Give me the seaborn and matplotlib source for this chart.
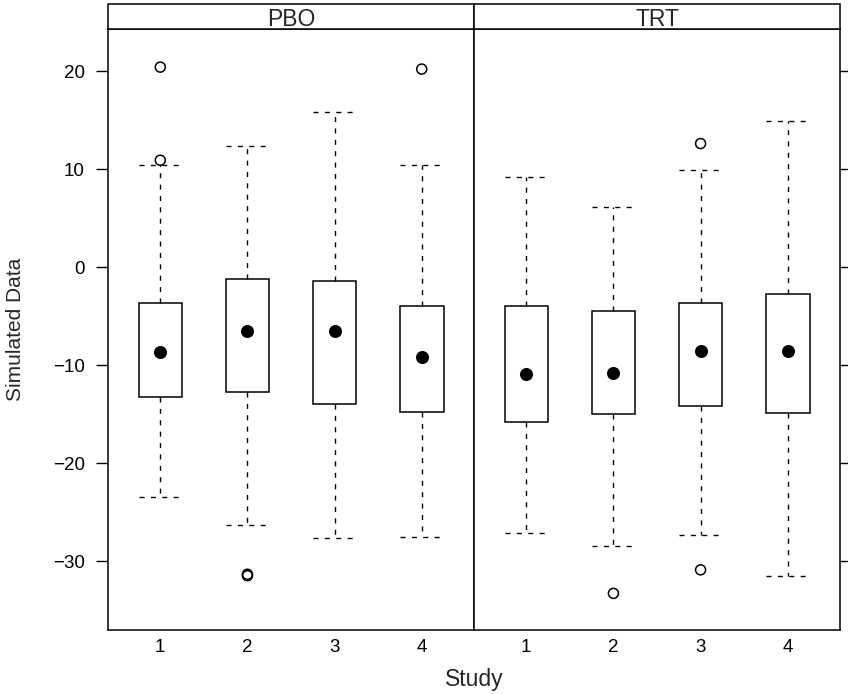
import numpy as np
import pandas as pd
import matplotlib
matplotlib.use("Agg")
import matplotlib.pyplot as plt
import seaborn as sns
from matplotlib.patches import Rectangle

# ---------------- data ----------------
groups = ["PBO", "TRT"]
studies = ["1", "2", "3", "4"]

pbo_whislo = [-23.5, -26.3, -27.7, -27.6]
pbo_q1 = [-13.3, -12.8, -14.0, -14.8]
pbo_med = [-8.7, -6.5, -6.5, -9.2]
pbo_q3 = [-3.7, -1.2, -1.4, -4.0]
pbo_whishi = [10.4, 12.4, 15.8, 10.4]
pbo_outliers = [[20.4, 10.9], [-31.35, -31.5], [], [20.2]]

trt_whislo = [-27.1, -28.5, -27.3, -31.5]
trt_q1 = [-15.8, -15.0, -14.2, -14.9]
trt_med = [-10.9, -10.8, -8.6, -8.6]
trt_q3 = [-4.0, -4.5, -3.7, -2.8]
trt_whishi = [9.2, 6.1, 9.9, 14.9]
trt_outliers = [[], [-33.3], [12.6, -30.9], []]

y_ticks = [-30, -20, -10, 0, 10, 20]

# ---------------- style ----------------
sns.set_style("ticks")
plt.rcParams["font.family"] = ["Liberation Sans", "DejaVu Sans"]

rows = []
out_rows = []
for gname, wl, q1, md, q3, wh, outs in [
    ("PBO", pbo_whislo, pbo_q1, pbo_med, pbo_q3, pbo_whishi, pbo_outliers),
    ("TRT", trt_whislo, trt_q1, trt_med, trt_q3, trt_whishi, trt_outliers),
]:
    for i, s in enumerate(studies):
        rows.append(dict(Group=gname, Study=s, pos=i + 1, whislo=wl[i], q1=q1[i],
                         med=md[i], q3=q3[i], whishi=wh[i]))
        for v in outs[i]:
            out_rows.append(dict(Group=gname, pos=i + 1, value=v))
stats_df = pd.DataFrame(rows)
out_df = pd.DataFrame(out_rows, columns=["Group", "pos", "value"])

dash = (0, (3.6, 4.6))


def draw_panel(data, **kws):
    ax = plt.gca()
    grp = data["Group"].iloc[0]
    stats = [dict(whislo=r.whislo, q1=r.q1, med=r.med, q3=r.q3, whishi=r.whishi, fliers=[])
             for r in data.itertuples()]
    ax.bxp(stats, positions=data["pos"].tolist(), widths=0.5, capwidths=0.5,
           patch_artist=True, showfliers=False,
           boxprops=dict(facecolor="white", edgecolor="black", linewidth=1.1),
           whiskerprops=dict(color="black", linewidth=1.0, linestyle=dash),
           capprops=dict(color="black", linewidth=1.0, linestyle=dash),
           medianprops=dict(visible=False))
    sns.scatterplot(x=data["pos"].to_numpy(), y=data["med"].to_numpy(), ax=ax,
                    color="black", s=88, linewidth=0, zorder=5)
    od = out_df[out_df["Group"] == grp]
    if len(od):
        sns.scatterplot(x=od["pos"].to_numpy(), y=od["value"].to_numpy(), ax=ax,
                        color="black", s=52, linewidth=1.1, zorder=5)
        coll = ax.collections[-1]
        coll.set_facecolor("none")
        coll.set_edgecolor("black")


g = sns.FacetGrid(stats_df, col="Group", col_order=groups, sharex=True, sharey=True,
                  despine=False, height=6.94, aspect=0.61)
g.map_dataframe(draw_panel)
g.set_titles(template="")
g.set_axis_labels("", "")

fig = g.figure
fig.set_size_inches(8.48, 6.94)
fig.subplots_adjust(left=108 / 848, right=840 / 848, top=1 - 29 / 694,
                    bottom=1 - 630 / 694, wspace=0)

strip_h = 25 / 601
for ax, name in zip(g.axes.flat, groups):
    ax.set_xlim(0.4, 4.6)
    ax.set_ylim(-37.04, 24.29)
    ax.set_xticks([1, 2, 3, 4])
    ax.set_xticklabels(studies)
    ax.set_yticks(y_ticks)
    ax.set_yticklabels([str(t).replace("-", "\u2212") for t in y_ticks])
    for sp in ax.spines.values():
        sp.set_linewidth(1.1)
        sp.set_color("black")
    ax.tick_params(axis="x", length=0, pad=6.5, labelsize=13.5, colors="black")
    ax.tick_params(axis="y", length=8.6, width=1.0, pad=8, labelsize=13.5, colors="black")
    ax.add_patch(Rectangle((0, 1), 1, strip_h, transform=ax.transAxes, clip_on=False,
                           facecolor="white", edgecolor="black", linewidth=1.1, zorder=10))
    ax.text(0.5, 1 + strip_h / 2, name, transform=ax.transAxes, ha="center",
            va="center_baseline", fontsize=16.5, zorder=11)

axL, axR = g.axes.flat
axL.tick_params(axis="y", left=True, right=False, labelleft=True, labelright=False)
axR.tick_params(axis="y", left=False, right=True, labelleft=False, labelright=False)

fig.text(16 / 848, 1 - 329.5 / 694, "Simulated Data", rotation=90, ha="center",
         va="center", fontsize=15)
fig.text(474 / 848, 1 - 686 / 694, "Study", ha="center", va="baseline", fontsize=16.5)

fig.savefig("out.png", dpi=100)
